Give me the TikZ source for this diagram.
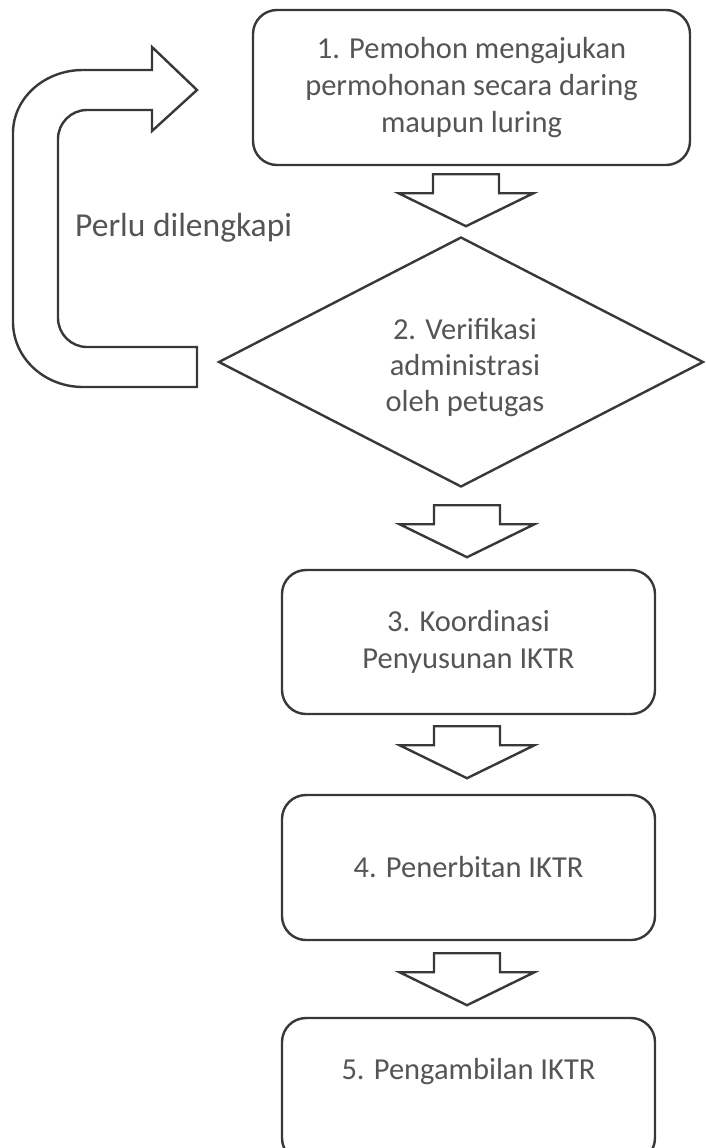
\documentclass[tikz,border=0pt]{standalone}
\usepackage{fontspec}
\setmainfont{Carlito}
\usetikzlibrary{shapes.geometric,calc}
\definecolor{linec}{HTML}{383838}
\definecolor{textc}{HTML}{555555}
\begin{document}
\begin{tikzpicture}[x=1pt,y=-1pt,
  box/.style={draw=linec, line width=2.4pt, rounded corners=24pt, fill=white,
    text=textc, align=center, font=\fontsize{30.5}{37}\selectfont, inner sep=0pt},
  dia/.style={draw=linec, line width=2.4pt, diamond, fill=white, inner sep=0pt,
    minimum width=485pt, minimum height=250pt},
  lbl/.style={text=textc, align=center, font=\fontsize{30.5}{36}\selectfont, inner sep=0pt},
  arrowline/.style={draw=linec, line width=2.4pt, fill=white, line join=miter},
  dnarrow/.pic={\path[arrowline] (-33,0) -- (33,0) -- (33,19) -- (67.5,19) -- (0,52)
     -- (-67.5,19) -- (-33,19) -- cycle;}
]
\useasboundingbox (0,0) rectangle (705,1148);
\clip (0,0) rectangle (705,1148);
\fill[white] (0,0) rectangle (705,1148);

% loop-back block arrow
\path[arrowline] (197,387) -- (83,387)
  .. controls (44.3,387) and (13,357.9) .. (13,322)
  -- (13,133)
  .. controls (13,98.2) and (44.3,70) .. (83,70)
  -- (152,70) -- (152,47) -- (197,90) -- (152,131) -- (152,110)
  -- (87,110)
  .. controls (71,110) and (58,123) .. (58,139)
  -- (58,318)
  .. controls (58,334) and (71,347) .. (87,347)
  -- (197,347) -- cycle;
\node[lbl, anchor=west, font=\fontsize{33.5}{38}\selectfont] (perlu) at (75,228) {Perlu dilengkapi};

% nodes
\node[box, minimum width=437pt, minimum height=155pt] (b1) at (471.5,87.5)
  {1. Pemohon mengajukan\\permohonan secara daring\\maupun luring};
\node[dia] (d) at (461,362) {};
\node[lbl] (dt) at (465,368) {2. Verifikasi\\administrasi\\oleh petugas};
\node[box, minimum width=373pt, minimum height=144pt] (b3) at (468.5,642)
  {3. Koordinasi\\Penyusunan IKTR};
\node[box, minimum width=373pt, minimum height=145pt] (b4) at (468.5,867.5)
  {4. Penerbitan IKTR};
\node[box, minimum width=373pt, minimum height=144pt] (b5) at (468.5,1090) {};
\node[lbl] (b5t) at (468.5,1072) {5. Pengambilan IKTR};

% block arrows between steps
\pic at ($(b1.south)+(-5.5,8)$) {dnarrow};
\pic at ($(d.south)+(6,17)$) {dnarrow};
\pic at ($(b3.south)+(-1.5,11)$) {dnarrow};
\pic at ($(b4.south)+(-1.5,12)$) {dnarrow};
\end{tikzpicture}
\end{document}
